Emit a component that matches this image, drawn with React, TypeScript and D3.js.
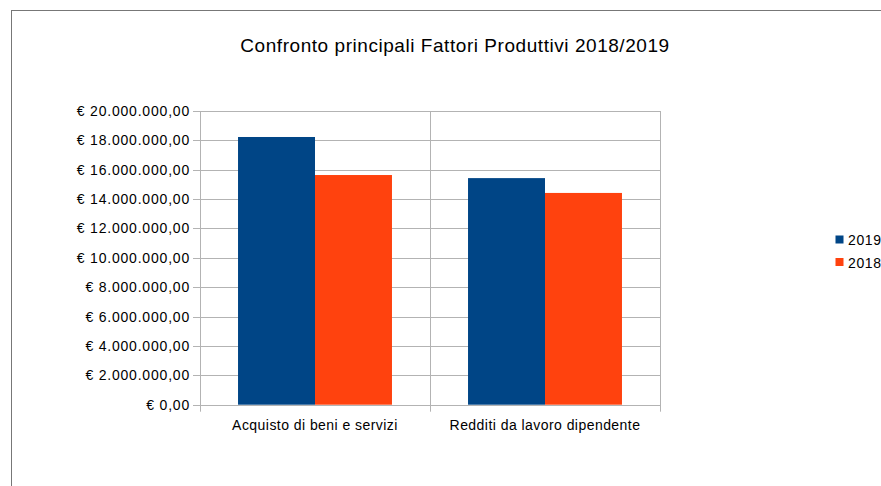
import React, { useEffect, useRef } from 'react';
import * as d3 from 'd3';

const categories = ['Acquisto di beni e servizi', 'Redditi da lavoro dipendente'];
const seriesNames = ['2019', '2018'];
const values2019 = [18230000, 15430000];
const values2018 = [15640000, 14420000];
const yTicks = [0, 2000000, 4000000, 6000000, 8000000, 10000000, 12000000, 14000000, 16000000, 18000000, 20000000];
const colors = ['#004586', '#ff420e'];

const fmt = (v: number) => {
  const s = Math.round(v).toString().replace(/\B(?=(\d{3})+(?!\d))/g, '.');
  return '€ ' + s + ',00';
};

const App = () => {
  const svgRef = useRef<SVGSVGElement>(null);

  useEffect(() => {
    const svg = d3.select(svgRef.current);
    svg.selectAll('*').remove();
    const font = '"Liberation Sans", Arial, sans-serif';

    // outer border
    svg.append('rect')
      .attr('x', 11.5).attr('y', 10.5)
      .attr('width', 1000).attr('height', 1000)
      .attr('fill', 'white').attr('stroke', '#777');

    const left = 200, right = 660, top = 111, bottom = 404.7;

    const x = d3.scaleBand().domain(categories).range([left, right]);
    const xInner = d3.scaleBand().domain(seriesNames).range([0, x.bandwidth()]).paddingOuter(0.494).paddingInner(0);
    const y = d3.scaleLinear().domain([0, 20000000]).range([bottom, top]);

    // grid
    svg.append('g').selectAll('line').data(yTicks).join('line')
      .attr('x1', left - 7).attr('x2', right)
      .attr('y1', d => Math.round(y(d)) + 0.5).attr('y2', d => Math.round(y(d)) + 0.5)
      .attr('stroke', '#b3b3b3').attr('stroke-width', 1);

    // vertical lines
    const vx = [left, x(categories[1])!, right];
    svg.append('g').selectAll('line').data(vx).join('line')
      .attr('x1', d => Math.round(d) + 0.5).attr('x2', d => Math.round(d) + 0.5)
      .attr('y1', top).attr('y2', bottom + 7)
      .attr('stroke', '#b3b3b3').attr('stroke-width', 1);

    // bars
    const data = [values2019, values2018];
    categories.forEach((c, ci) => {
      seriesNames.forEach((s, si) => {
        const v = data[si][ci];
        svg.append('rect')
          .attr('x', x(c)! + xInner(s)!)
          .attr('width', xInner.bandwidth())
          .attr('y', y(v))
          .attr('height', bottom - y(v))
          .attr('fill', colors[si]);
      });
    });

    // y labels
    svg.append('g').selectAll('text').data(yTicks).join('text')
      .attr('x', left - 10).attr('y', d => y(d) + 5)
      .attr('text-anchor', 'end')
      .attr('font-family', font).attr('font-size', 14)
      .attr('letter-spacing', 0.8)
      .text(d => fmt(d));

    // x labels
    svg.append('g').selectAll('text').data(categories).join('text')
      .attr('x', d => x(d)! + x.bandwidth() / 2).attr('y', 430)
      .attr('text-anchor', 'middle')
      .attr('font-family', font).attr('font-size', 14)
      .attr('letter-spacing', 0.45)
      .text(d => d);

    // title
    svg.append('text')
      .attr('x', 455).attr('y', 52)
      .attr('text-anchor', 'middle')
      .attr('font-family', font).attr('font-size', 19)
      .attr('letter-spacing', 0.55)
      .text('Confronto principali Fattori Produttivi 2018/2019');

    // legend
    const lg = svg.append('g').selectAll('g').data(seriesNames).join('g')
      .attr('transform', (d, i) => `translate(835.5, ${235.5 + i * 22.5})`);
    lg.append('rect').attr('width', 8).attr('height', 8)
      .attr('fill', (d, i) => colors[i]);
    lg.append('text').attr('x', 12.5).attr('y', 9.5)
      .attr('font-family', font).attr('font-size', 14)
      .attr('letter-spacing', 0.6)
      .text(d => d);
  }, []);

  return (
    <div>
      <svg ref={svgRef} width={881} height={486}
        style={{ position: 'absolute', left: 0, top: 0, background: 'white' }} />
    </div>
  );
};

export default App;
